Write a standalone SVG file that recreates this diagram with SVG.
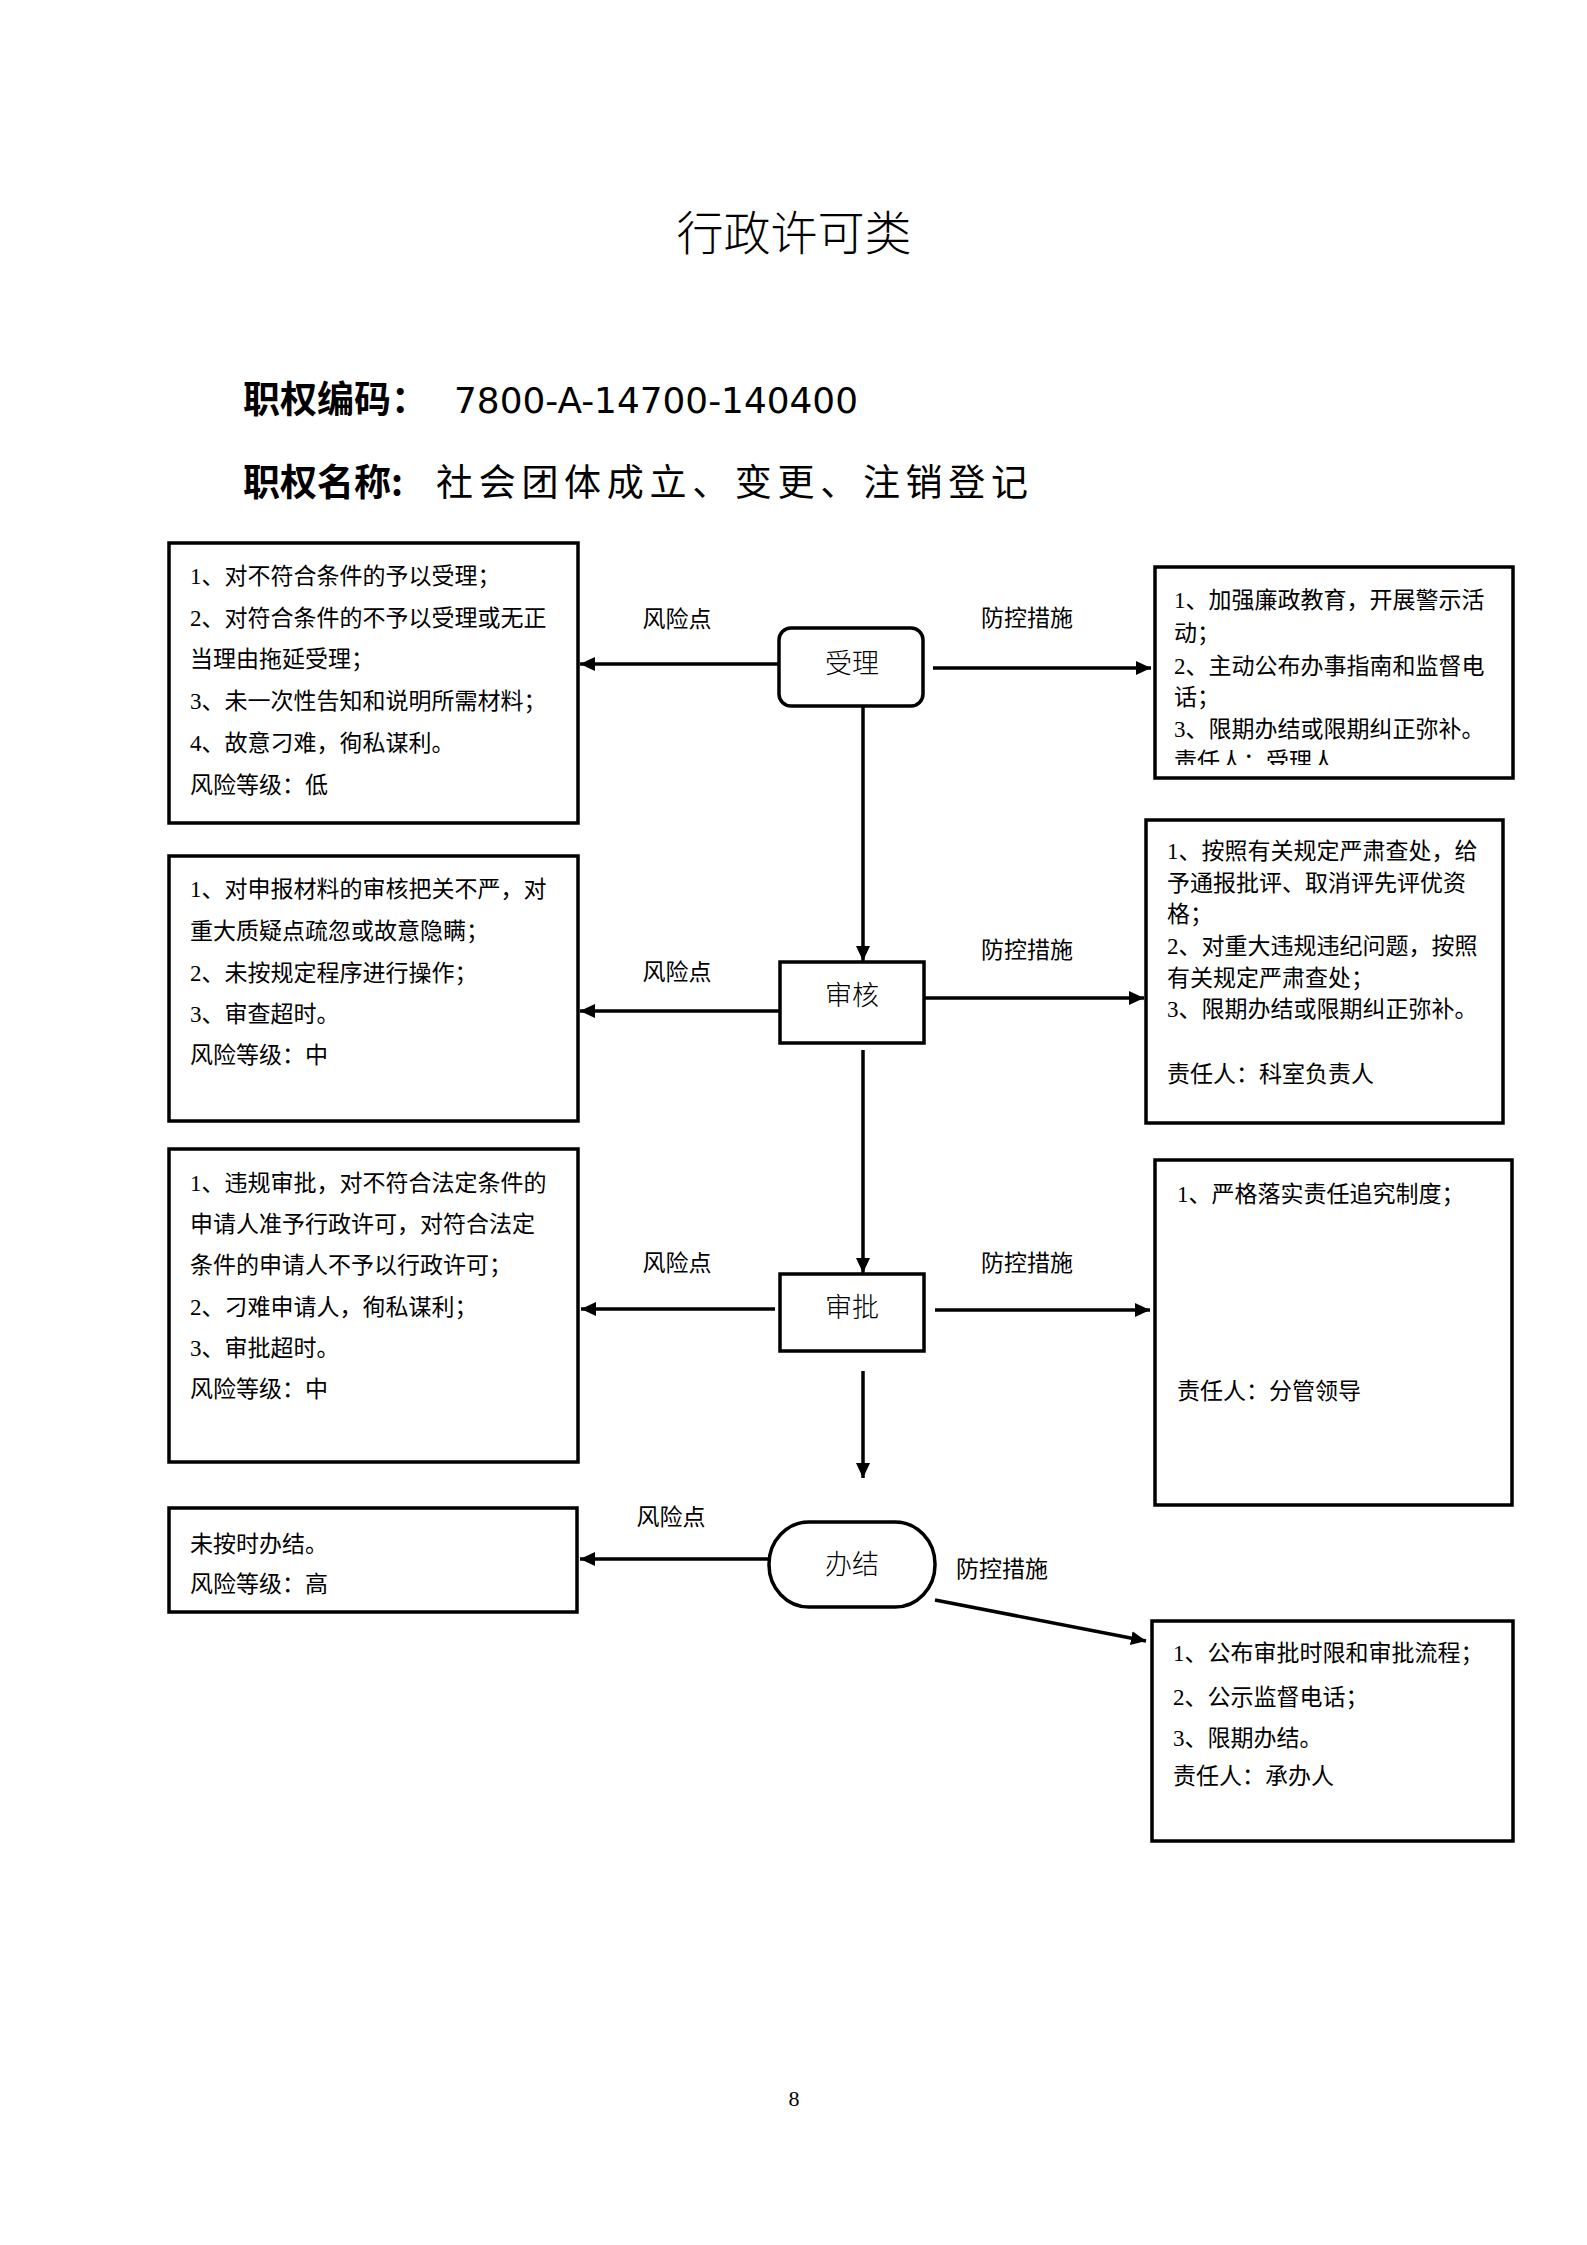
<svg xmlns="http://www.w3.org/2000/svg" width="1587" height="2245" viewBox="0 0 1587 2245">
<style>
.bg{fill:#fff}
.box{fill:#fff;stroke:#000;stroke-width:3.5}
.node{fill:#fff;stroke:#000;stroke-width:3.5}
.t{font-family:"Liberation Serif","Noto Sans CJK SC",serif;font-size:23px;fill:#000}
.lbl{font-family:"Liberation Serif","Noto Sans CJK SC",serif;font-size:23px;fill:#000;text-anchor:middle}
.nt{font-family:"Liberation Serif","Noto Sans CJK SC",serif;font-size:27px;font-weight:300;fill:#000;text-anchor:middle}
.h{font-family:"Noto Sans CJK SC",sans-serif;font-size:37px;fill:#000}
.hb{font-weight:bold}
.title{font-family:"Noto Sans CJK SC",sans-serif;font-size:47px;font-weight:300;fill:#000;text-anchor:middle}
.conn{fill:none;stroke:#000;stroke-width:3.5}
</style>
<defs>
<marker id="arr" markerUnits="userSpaceOnUse" markerWidth="16" markerHeight="14" refX="15" refY="7" orient="auto">
<path d="M0,0 L15,7 L0,14 z" fill="#000"/>
</marker>
<clipPath id="clipR1"><rect x="1157" y="569" width="354" height="196"/></clipPath>
</defs>
<rect class="bg" x="0" y="0" width="1587" height="2245"/>

<g id="header">
<text class="title" x="794" y="250">行政许可类</text>
<text class="h" x="243" y="413"><tspan class="hb">职权编码：</tspan></text>
<text x="454" y="413" font-family="DejaVu Sans, sans-serif" font-size="35" textLength="404" lengthAdjust="spacingAndGlyphs">7800-A-14700-140400</text>
<text class="h" x="243" y="496"><tspan class="hb">职权名称:</tspan></text>
<text class="h" x="436" y="496" textLength="592" lengthAdjust="spacing">社会团体成立、变更、注销登记</text>
</g>

<g id="connectors">
<line class="conn" x1="779" y1="664" x2="580" y2="664" marker-end="url(#arr)"/>
<line class="conn" x1="933" y1="668" x2="1151" y2="668" marker-end="url(#arr)"/>
<line class="conn" x1="863" y1="706" x2="863" y2="961" marker-end="url(#arr)"/>
<line class="conn" x1="780" y1="1011" x2="580" y2="1011" marker-end="url(#arr)"/>
<line class="conn" x1="924" y1="998" x2="1144" y2="998" marker-end="url(#arr)"/>
<line class="conn" x1="863" y1="1050" x2="863" y2="1273" marker-end="url(#arr)"/>
<line class="conn" x1="775" y1="1309" x2="581" y2="1309" marker-end="url(#arr)"/>
<line class="conn" x1="935" y1="1310" x2="1150" y2="1310" marker-end="url(#arr)"/>
<line class="conn" x1="863" y1="1371" x2="863" y2="1478" marker-end="url(#arr)"/>
<line class="conn" x1="769" y1="1559" x2="580" y2="1559" marker-end="url(#arr)"/>
<line class="conn" x1="935" y1="1600" x2="1146" y2="1641" marker-end="url(#arr)"/>
<text class="lbl" x="677" y="627">风险点</text>
<text class="lbl" x="1027" y="626">防控措施</text>
<text class="lbl" x="677" y="980">风险点</text>
<text class="lbl" x="1027" y="958">防控措施</text>
<text class="lbl" x="677" y="1271">风险点</text>
<text class="lbl" x="1027" y="1271">防控措施</text>
<text class="lbl" x="671" y="1525">风险点</text>
<text class="lbl" x="1002" y="1577">防控措施</text>
</g>

<g id="node-shouli">
<rect class="node" x="779" y="628" width="144" height="78" rx="12"/>
<text class="nt" x="852" y="673">受理</text>
</g>
<g id="node-shenhe">
<rect class="node" x="780" y="962" width="144" height="81"/>
<text class="nt" x="852" y="1005">审核</text>
</g>
<g id="node-shenpi">
<rect class="node" x="780" y="1274" width="144" height="77"/>
<text class="nt" x="852" y="1317">审批</text>
</g>
<g id="node-banjie">
<rect class="node" x="769" y="1522" width="166" height="85" rx="40" ry="42"/>
<text class="nt" x="852" y="1574">办结</text>
</g>

<g id="risk-shouli">
<rect class="box" x="169" y="543" width="409" height="280"/>
<text class="t" x="190" y="584">1、对不符合条件的予以受理；</text>
<text class="t" x="190" y="626">2、对符合条件的不予以受理或无正</text>
<text class="t" x="190" y="667">当理由拖延受理；</text>
<text class="t" x="190" y="709">3、未一次性告知和说明所需材料；</text>
<text class="t" x="190" y="751">4、故意刁难，徇私谋利。</text>
<text class="t" x="190" y="793">风险等级：低</text>
</g>
<g id="risk-shenhe">
<rect class="box" x="169" y="856" width="409" height="265"/>
<text class="t" x="190" y="897">1、对申报材料的审核把关不严，对</text>
<text class="t" x="190" y="939">重大质疑点疏忽或故意隐瞒；</text>
<text class="t" x="190" y="981">2、未按规定程序进行操作；</text>
<text class="t" x="190" y="1022">3、审查超时。</text>
<text class="t" x="190" y="1063">风险等级：中</text>
</g>
<g id="risk-shenpi">
<rect class="box" x="169" y="1149" width="409" height="313"/>
<text class="t" x="190" y="1191">1、违规审批，对不符合法定条件的</text>
<text class="t" x="190" y="1232">申请人准予行政许可，对符合法定</text>
<text class="t" x="190" y="1273">条件的申请人不予以行政许可；</text>
<text class="t" x="190" y="1315">2、刁难申请人，徇私谋利；</text>
<text class="t" x="190" y="1356">3、审批超时。</text>
<text class="t" x="190" y="1397">风险等级：中</text>
</g>
<g id="risk-banjie">
<rect class="box" x="169" y="1508" width="408" height="104"/>
<text class="t" x="190" y="1552">未按时办结。</text>
<text class="t" x="190" y="1592">风险等级：高</text>
</g>

<g id="ctrl-shouli">
<rect class="box" x="1155" y="567" width="358" height="211"/>
<g clip-path="url(#clipR1)">
<text class="t" x="1174" y="608">1、加强廉政教育，开展警示活</text>
<text class="t" x="1174" y="641">动；</text>
<text class="t" x="1174" y="674">2、主动公布办事指南和监督电</text>
<text class="t" x="1174" y="705">话；</text>
<text class="t" x="1174" y="737">3、限期办结或限期纠正弥补。</text>
<text class="t" x="1174" y="769">责任人：受理人</text>
</g>
</g>
<g id="ctrl-shenhe">
<rect class="box" x="1146" y="820" width="357" height="303"/>
<text class="t" x="1167" y="859">1、按照有关规定严肃查处，给</text>
<text class="t" x="1167" y="891">予通报批评、取消评先评优资</text>
<text class="t" x="1167" y="922">格；</text>
<text class="t" x="1167" y="954">2、对重大违规违纪问题，按照</text>
<text class="t" x="1167" y="986">有关规定严肃查处；</text>
<text class="t" x="1167" y="1017">3、限期办结或限期纠正弥补。</text>
<text class="t" x="1167" y="1082">责任人：科室负责人</text>
</g>
<g id="ctrl-shenpi">
<rect class="box" x="1155" y="1160" width="357" height="345"/>
<text class="t" x="1177" y="1202">1、严格落实责任追究制度；</text>
<text class="t" x="1177" y="1399">责任人：分管领导</text>
</g>
<g id="ctrl-banjie">
<rect class="box" x="1152" y="1621" width="361" height="220"/>
<text class="t" x="1173" y="1661">1、公布审批时限和审批流程；</text>
<text class="t" x="1173" y="1705">2、公示监督电话；</text>
<text class="t" x="1173" y="1746">3、限期办结。</text>
<text class="t" x="1173" y="1784">责任人：承办人</text>
</g>

<text id="page" x="794" y="2106" font-family="Liberation Serif, serif" font-size="22" text-anchor="middle">8</text>
</svg>
